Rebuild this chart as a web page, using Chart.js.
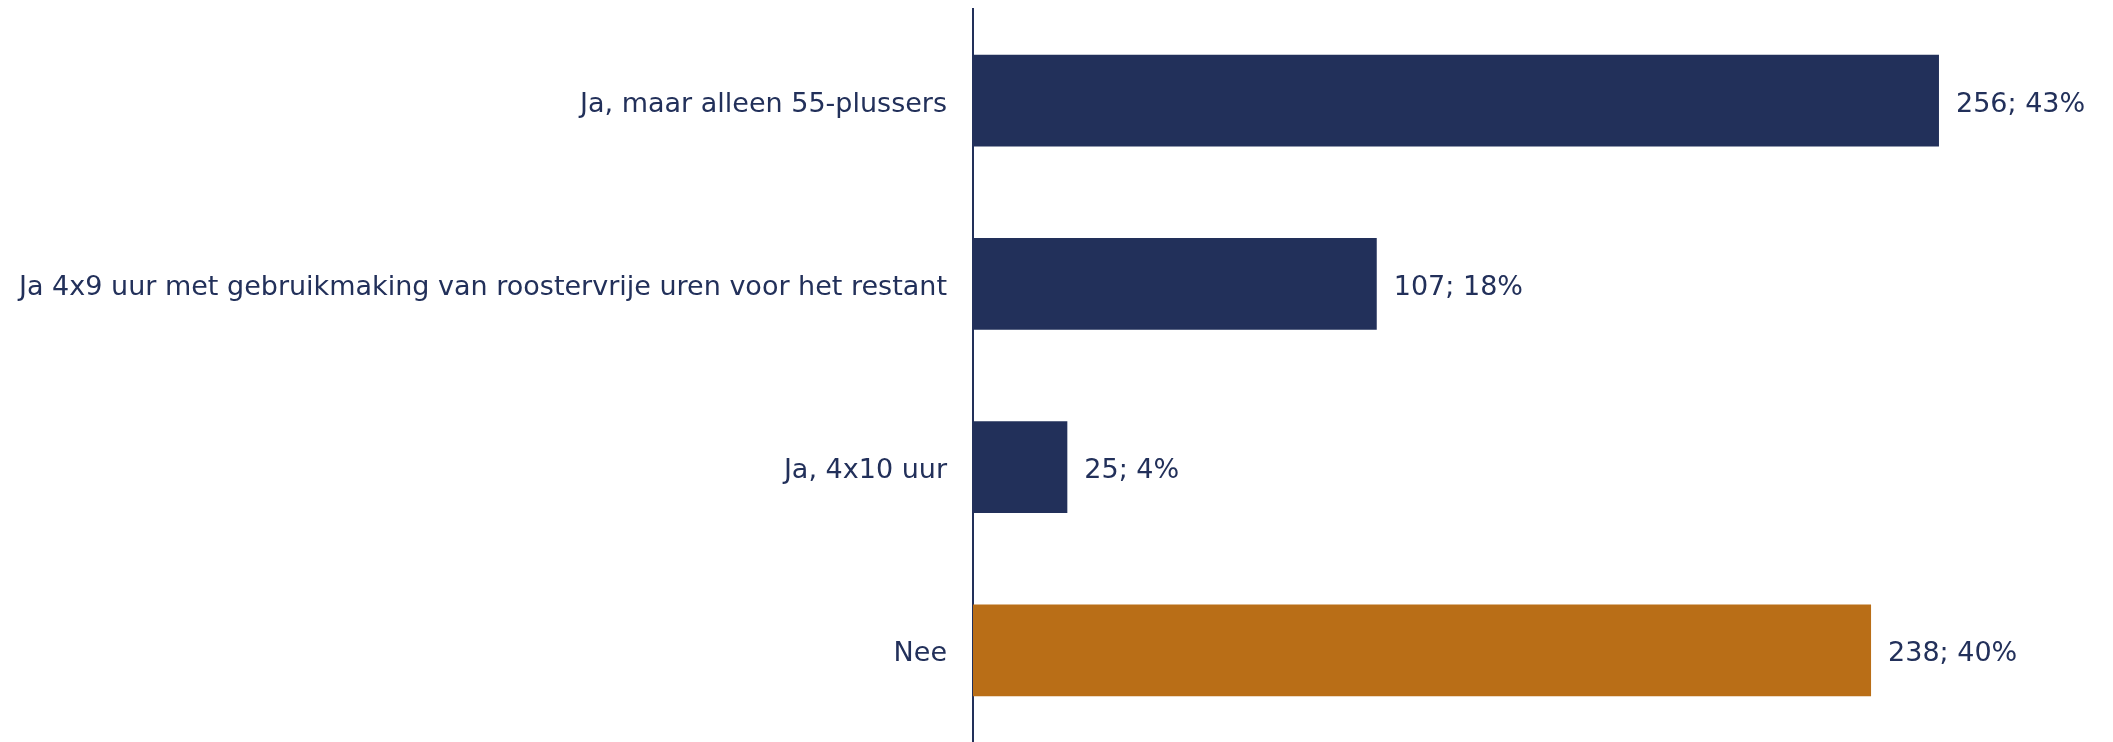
<!DOCTYPE html>
<html>
<head>
<meta charset="utf-8">
<script src="https://cdn.jsdelivr.net/npm/chart.js@4.4.1/dist/chart.umd.min.js"></script>
<style>
  html, body { margin: 0; padding: 0; background: #fff; }
  #wrap { width: 2113px; height: 742px; position: relative; }
</style>
</head>
<body>
<div id="wrap"><canvas id="chart"></canvas></div>
<script>
const categories = [
    "Ja, maar alleen 55-plussers",
    "Ja 4x9 uur met gebruikmaking van roostervrije uren voor het restant",
    "Ja, 4x10 uur",
    "Nee"
];
const counts = [256, 107, 25, 238];
const percents = [43, 18, 4, 40];
const barColors = ["#22305a", "#22305a", "#22305a", "#b96e17"];

const navy = "#22305a";
const fontFamily = "'DejaVu Sans', Verdana, sans-serif";
const fontSize = 27;

// draws "count; pct%" right of each bar
const valueLabels = {
    id: "valueLabels",
    afterDatasetsDraw(chart) {
        const ctx = chart.ctx;
        const meta = chart.getDatasetMeta(0);
        ctx.save();
        ctx.font = fontSize + "px " + fontFamily;
        ctx.fillStyle = navy;
        ctx.textAlign = "left";
        ctx.textBaseline = "middle";
        meta.data.forEach(function(bar, i) {
            ctx.fillText(counts[i] + "; " + percents[i] + "%", bar.x + 17, bar.y + 4);
        });
        ctx.restore();
    }
};

new Chart(document.getElementById("chart"), {
    type: "bar",
    data: {
        labels: categories,
        datasets: [{
            data: counts,
            backgroundColor: barColors,
            borderWidth: 0,
            barPercentage: 1,
            categoryPercentage: 0.5
        }]
    },
    options: {
        indexAxis: "y",
        responsive: true,
        maintainAspectRatio: false,
        animation: false,
        layout: { padding: { top: 9, right: 8, bottom: 0, left: 0 } },
        plugins: {
            legend: { display: false },
            tooltip: { enabled: false }
        },
        scales: {
            x: {
                display: false,
                min: 0,
                max: 300
            },
            y: {
                grid: { display: false, drawTicks: false },
                border: { display: true, color: navy, width: 2 },
                ticks: {
                    color: navy,
                    padding: 26,
                    labelOffset: 4,
                    font: { family: fontFamily, size: fontSize }
                },
                afterFit: function(scale) {
                    scale.width = 973;
                    scale.paddingTop = 0;
                    scale.paddingBottom = 0;
                }
            }
        }
    },
    plugins: [valueLabels]
});
</script>
</body>
</html>
